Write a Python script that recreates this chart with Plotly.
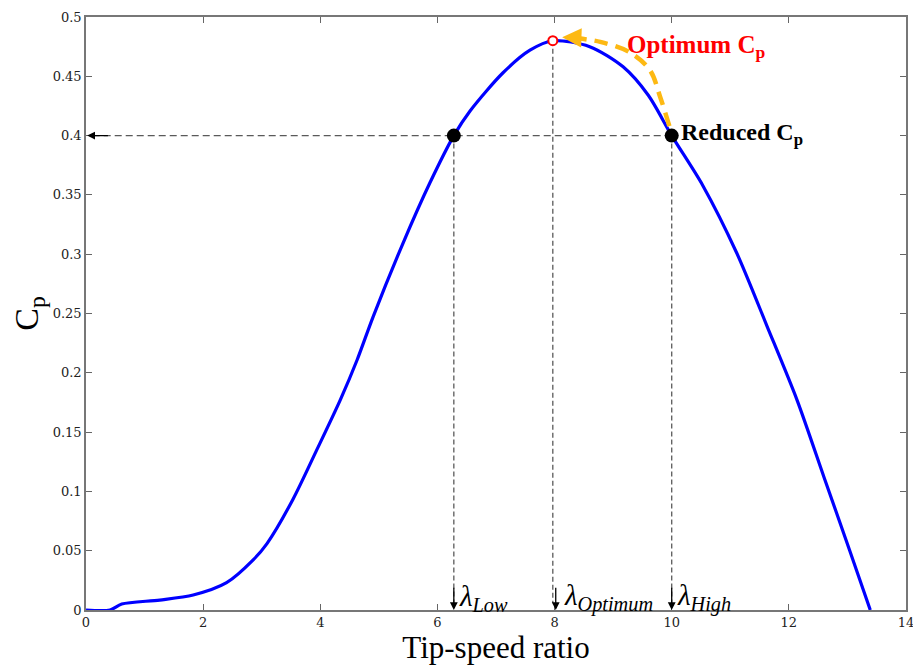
import plotly.graph_objects as go

# Curve data
tsr = [0, 0.41, 0.61, 1.26, 1.83, 2.4, 2.85, 3.09, 3.53, 3.94, 4.34, 4.63, 4.9, 5.41, 5.87,
       6.28, 6.56, 7.12, 7.58, 7.97, 8.6, 9.17, 9.6, 10.0, 10.53, 11.11, 11.63, 12.14, 12.6,
       13.04, 13.39]
cp = [0, 0, 0.005, 0.0084, 0.0126, 0.023, 0.042, 0.056, 0.093, 0.135, 0.177, 0.211, 0.247,
      0.309, 0.36, 0.40, 0.421, 0.453, 0.472, 0.48, 0.475, 0.458, 0.434, 0.40, 0.358, 0.301,
      0.239, 0.177, 0.112, 0.05, 0]

# Key points
low_x, low_y = 6.28, 0.40
opt_x, opt_y = 7.97, 0.48
high_x, high_y = 10.0, 0.40

# Orange transition path
path_x = [9.96, 9.8, 9.63, 9.29, 8.78, 8.4]
path_y = [0.408, 0.433, 0.455, 0.47, 0.479, 0.482]

x_ticks = [0, 2, 4, 6, 8, 10, 12, 14]
y_ticks = [0, 0.05, 0.1, 0.15, 0.2, 0.25, 0.3, 0.35, 0.4, 0.45, 0.5]
y_tick_text = ["0", "0.05", "0.1", "0.15", "0.2", "0.25", "0.3", "0.35", "0.4", "0.45", "0.5"]

grey = "#5a5a5a"
orange = "#FDB913"
fig = go.Figure()

# dashed guide lines
fig.add_trace(go.Scatter(x=[high_x, 0.12], y=[high_y, high_y], mode="lines",
                         line=dict(color=grey, width=1.3, dash="7px,4px"), hoverinfo="skip"))
for vx, vy in [(low_x, low_y), (opt_x, opt_y), (high_x, high_y)]:
    fig.add_trace(go.Scatter(x=[vx, vx], y=[vy, 0.006], mode="lines",
                             line=dict(color=grey, width=1.3, dash="5px,3px"), hoverinfo="skip"))

# Main curve
fig.add_trace(go.Scatter(x=tsr, y=cp, mode="lines",
                         line=dict(color="#0000FF", width=3.2, shape="spline", smoothing=0.8),
                         hoverinfo="skip"))

# Orange dashed path
fig.add_trace(go.Scatter(x=path_x, y=path_y, mode="lines",
                         line=dict(color=orange, width=4.5, dash="14px,8px", shape="spline"),
                         hoverinfo="skip"))

# points
fig.add_trace(go.Scatter(x=[low_x, high_x], y=[low_y, high_y], mode="markers",
                         marker=dict(color="black", size=14), hoverinfo="skip"))
fig.add_trace(go.Scatter(x=[opt_x], y=[opt_y], mode="markers",
                         marker=dict(color="white", size=9, line=dict(color="red", width=2)),
                         hoverinfo="skip"))

annotations = []
# arrowheads on guide lines
for vx in [low_x, opt_x + 0.05, high_x]:
    annotations.append(dict(x=vx, y=0, ax=vx, ay=0.02, xref="x", yref="y", axref="x", ayref="y",
                            showarrow=True, arrowhead=2, arrowsize=1.2, arrowwidth=1.3,
                            arrowcolor="black", text=""))
annotations.append(dict(x=0.02, y=high_y, ax=0.4, ay=high_y, xref="x", yref="y", axref="x", ayref="y",
                        showarrow=True, arrowhead=2, arrowsize=1.2, arrowwidth=1.3,
                        arrowcolor="black", text=""))
# orange arrow head
annotations.append(dict(x=8.13, y=0.483, ax=8.42, ay=0.4825, xref="x", yref="y", axref="x", ayref="y",
                        showarrow=True, arrowhead=2, arrowsize=1.1, arrowwidth=3.5,
                        arrowcolor=orange, text=""))

serif = "Liberation Serif, Times New Roman, serif"
lam_font = dict(family=serif, size=29, color="black")
for lx, txt in [(6.33, "λ<sub>Low</sub>"), (8.12, "λ<sub>Optimum</sub>"), (10.05, "λ<sub>High</sub>")]:
    annotations.append(dict(x=lx, y=0, xref="x", yref="y", xanchor="left", yanchor="bottom",
                            yshift=-8, showarrow=False, text="<i>" + txt + "</i>", font=lam_font))

annotations.append(dict(x=9.2, y=0.4755, xref="x", yref="y", xanchor="left", yanchor="middle",
                        showarrow=False, text="<b>Optimum C<sub>p</sub></b>",
                        font=dict(family=serif, size=25, color="red")))
annotations.append(dict(x=10.13, y=0.401, xref="x", yref="y", xanchor="left", yanchor="middle",
                        showarrow=False, text="<b>Reduced C<sub>p</sub></b>",
                        font=dict(family=serif, size=24, color="black")))

fig.update_layout(
    width=913, height=668,
    margin=dict(l=86, r=7, t=17, b=58),
    plot_bgcolor="white", paper_bgcolor="white",
    showlegend=False,
    annotations=annotations,
    xaxis=dict(range=[0, 14], tickvals=x_ticks, ticks="inside", ticklen=6, tickcolor="#666",
               showline=True, linecolor="#777", linewidth=1.5, mirror="ticks", showgrid=False, zeroline=False,
               automargin=False, ticklabeloverflow="allow",
               tickfont=dict(family="DejaVu Serif", size=13, color="#222"),
               title=dict(text="Tip-speed ratio", font=dict(family=serif, size=31, color="black"), standoff=6)),
    yaxis=dict(range=[0, 0.5], tickvals=y_ticks, ticktext=y_tick_text, ticks="inside", ticklen=6, tickcolor="#666",
               showline=True, linecolor="#777", linewidth=1.5, mirror="ticks", showgrid=False, zeroline=False,
               automargin=False, ticklabeloverflow="allow",
               tickfont=dict(family="DejaVu Serif", size=13, color="#222"),
               title=dict(text="C<sub>p</sub>", font=dict(family=serif, size=34, color="black"), standoff=4)),
)

fig.write_html("out.html", config={"displayModeBar": False},
               post_script="document.body.style.margin='0';document.body.style.overflow='hidden';")
